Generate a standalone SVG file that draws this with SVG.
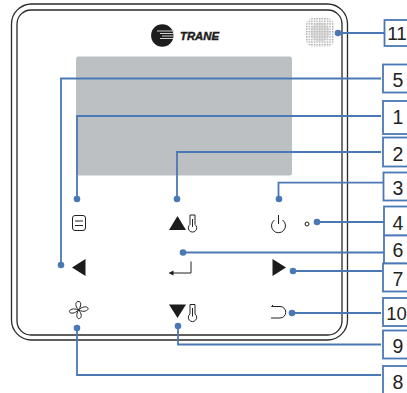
<svg xmlns="http://www.w3.org/2000/svg" width="407" height="393" viewBox="0 0 407 393">
<defs>
<pattern id="dots" x="306" y="18" width="2.6" height="2.6" patternUnits="userSpaceOnUse"><rect width="1.4" height="1.4" fill="#a2a2a2"/></pattern>
</defs>
<style>
.body{fill:none;stroke:#2a2a2a;stroke-width:1.3}
.line{fill:none;stroke:#4a78b4;stroke-width:1.8}
.dot{fill:#4a78b4}
.box{fill:#fff;stroke:#4a78b4;stroke-width:1.8}
.lab{font:19.500px "Liberation Sans",Arial,sans-serif;fill:#222;text-anchor:middle}
.ink{fill:#1c1c1c}
.ico{fill:none;stroke:#222;stroke-width:1}
</style>
<rect width="407" height="393" fill="#fff"/>
<g id="controller">
<rect class="body" x="11.500" y="4" width="336" height="336" rx="20"/>
<rect class="body" x="17" y="10" width="325" height="325" rx="14"/>
<rect x="76" y="56.500" width="216" height="119" rx="2.500" fill="#bcc0c2"/>
<circle cx="162.300" cy="35.500" r="11.200" fill="#1d1d1d"/>
<path d="M157 31H174M160 33.500H174M162 36H174M160 38.500H173" stroke="#cfcfcf" stroke-width="1" fill="none"/>
<text x="180" y="39.500" textLength="39" lengthAdjust="spacingAndGlyphs" font-family="Liberation Sans,Arial,sans-serif" font-size="10.500" font-weight="700" font-style="italic" fill="#1c1c1c" stroke="#1c1c1c" stroke-width=".4">TRANE</text>
<rect x="306" y="18" width="28" height="29" rx="7" fill="url(#dots)"/>
<circle cx="320" cy="32" r="9.500" fill="#c4c4c4" opacity=".55"/>
</g>
<g id="connectors">
<path class="line" d="M61 265V78.500H381"/>
<path class="line" d="M77 199V116H381"/>
<path class="line" d="M177 199V152H381"/>
<path class="line" d="M278.500 199V182.700H384"/>
<path class="line" d="M317 222H384"/>
<path class="line" d="M183 252.500H384"/>
<path class="line" d="M293 271H382"/>
<path class="line" d="M292 313H381"/>
<path class="line" d="M178 326V344.500H381"/>
<path class="line" d="M77 328V375H381"/>
<path class="line" d="M338 33H384"/>
</g>
<g id="dots">
<circle class="dot" cx="61" cy="265" r="3.300"/><circle class="dot" cx="77" cy="199" r="3.300"/><circle class="dot" cx="177" cy="199" r="3.300"/><circle class="dot" cx="279" cy="199" r="3.300"/><circle class="dot" cx="317" cy="222" r="3.300"/><circle class="dot" cx="183" cy="252.500" r="3.300"/><circle class="dot" cx="293" cy="271" r="3.300"/><circle class="dot" cx="292" cy="313" r="3.300"/><circle class="dot" cx="178" cy="326" r="3.300"/><circle class="dot" cx="77" cy="328" r="3.300"/><circle class="dot" cx="338" cy="33" r="3.300"/>
</g>
<g id="icon-menu"><rect class="ico" x="72.500" y="215.500" width="13" height="15" rx="2.500" stroke-width="1.200"/><path class="ico" d="M75 221H83M75 225.500H83" stroke-width="1.300"/></g>
<g id="icon-up"><path class="ink" d="M169 230L177.500 216L186 230Z"/><path class="ico" d="M190 215h5v9.500a4.200 4.200 0 1 1-5 0z" stroke-width="1.300"/><path class="ico" d="M192.500 219v8" stroke-width="2"/></g>
<g id="icon-power"><path class="ico" d="M274.500 220a7 7 0 1 0 8 0M278.500 215v9"/></g>
<circle id="icon-led" class="ico" cx="307" cy="224" r="2" stroke-width="1.500"/>
<g id="icon-left"><path class="ink" d="M72 267.500L85.500 259V276Z"/></g>
<g id="icon-enter"><path class="ico" d="M191 261.500V273H171" stroke-width="1.200"/><path class="ink" d="M168.500 273L173.500 270.500V275.500Z"/></g>
<g id="icon-right"><path class="ink" d="M272.500 259V276L286 267.500Z"/></g>
<g id="icon-return"><path class="ico" d="M273 305L271.500 306.500H280a5.700 5.700 0 0 1 0 11.500H271"/></g>
<g id="icon-fan"><path class="ico" d="M78.500 310C75 306 75 302 78 301.500S82 305 78.500 310ZM78.500 310C82 306.500 87 306 88 308S84.500 313 78.500 310ZM78.500 310C82 313.500 82 317.500 79.500 318.500S75.500 315 78.500 310ZM78.500 310C75 313.500 70.500 314 69.500 312S73 307.500 78.500 310Z" stroke-width="1"/></g>
<g id="icon-down"><path class="ink" d="M169 304.500H186L177.500 318Z"/><path class="ico" d="M190 304.500h5v9.500a4.200 4.200 0 1 1-5 0z" stroke-width="1.300"/><path class="ico" d="M192.500 308v8.500" stroke-width="2"/></g>
<g id="label-11"><rect class="box" x="384.500" y="20" width="30" height="26"/><text class="lab" x="397" y="40" style="font-size:19px">11</text></g>
<g id="label-5"><rect class="box" x="383" y="64.500" width="30" height="28"/><text class="lab" x="398" y="87">5</text></g>
<g id="label-1"><rect class="box" x="383" y="101" width="30" height="33"/><text class="lab" x="398" y="124">1</text></g>
<g id="label-2"><rect class="box" x="383" y="137.500" width="30" height="29"/><text class="lab" x="398" y="161">2</text></g>
<g id="label-3"><rect class="box" x="383.500" y="172.500" width="30" height="28"/><text class="lab" x="398" y="195">3</text></g>
<g id="label-4"><rect class="box" x="384" y="206.500" width="30" height="29"/><text class="lab" x="398" y="230">4</text></g>
<g id="label-6"><rect class="box" x="384" y="235.500" width="30" height="28"/><text class="lab" x="398" y="257">6</text></g>
<g id="label-7"><rect class="box" x="383" y="263.500" width="30" height="28"/><text class="lab" x="398" y="286">7</text></g>
<g id="label-10"><rect class="box" x="383" y="298" width="30" height="28"/><text class="lab" x="396.500" y="320" style="font-size:18.500px">10</text></g>
<g id="label-9"><rect class="box" x="383" y="330.500" width="30" height="28"/><text class="lab" x="398" y="353">9</text></g>
<g id="label-8"><rect class="box" x="383" y="366" width="30" height="30"/><text class="lab" x="398" y="389">8</text></g>
</svg>
